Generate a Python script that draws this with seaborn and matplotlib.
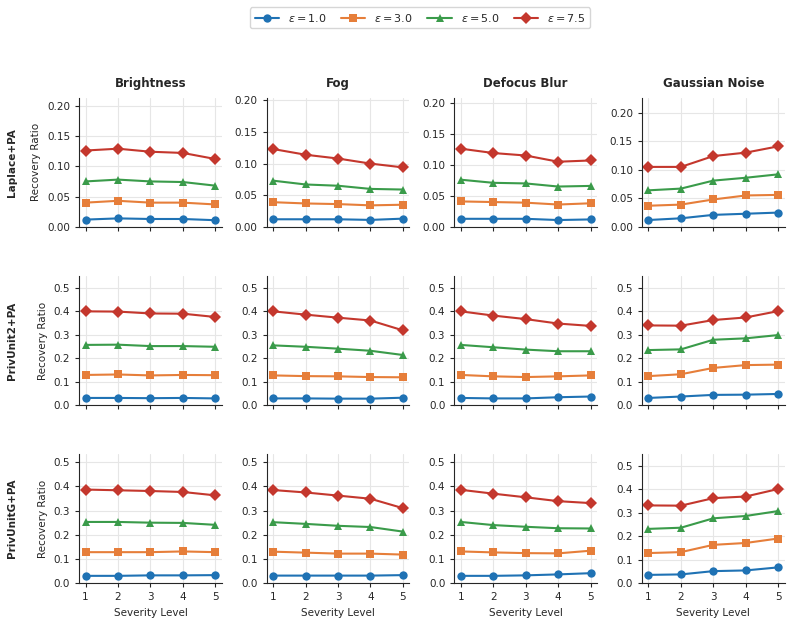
import numpy as np
import pandas as pd
import matplotlib
matplotlib.use("Agg")
import matplotlib.pyplot as plt
from matplotlib.ticker import MultipleLocator
import seaborn as sns

# DATA
SEVERITY   = [1, 2, 3, 4, 5]
EPSILONS   = [1.0, 3.0, 5.0, 7.5]
METHODS    = ["Laplace+PA", "PrivUnit2+PA", "PrivUnitG+PA"]
CORRUPTION = ["Brightness", "Fog", "Defocus Blur", "Gaussian Noise"]

# Laplace+PA, one list per epsilon
lap_brightness = [[0.012, 0.014, 0.013, 0.013, 0.011],
                  [0.040, 0.043, 0.040, 0.040, 0.037],
                  [0.075, 0.078, 0.075, 0.074, 0.068],
                  [0.126, 0.129, 0.124, 0.122, 0.112]]
lap_fog        = [[0.012, 0.012, 0.012, 0.011, 0.013],
                  [0.039, 0.037, 0.036, 0.034, 0.035],
                  [0.073, 0.067, 0.065, 0.060, 0.059],
                  [0.123, 0.114, 0.108, 0.100, 0.094]]
lap_defocus    = [[0.013, 0.013, 0.013, 0.011, 0.012],
                  [0.041, 0.040, 0.039, 0.036, 0.038],
                  [0.076, 0.071, 0.070, 0.065, 0.066],
                  [0.126, 0.119, 0.115, 0.105, 0.107]]
lap_gauss      = [[0.012, 0.015, 0.021, 0.023, 0.025],
                  [0.037, 0.039, 0.048, 0.055, 0.056],
                  [0.064, 0.067, 0.081, 0.086, 0.092],
                  [0.105, 0.105, 0.124, 0.130, 0.141]]

# PrivUnit2+PA
pu2_brightness = [[0.030, 0.030, 0.029, 0.030, 0.028],
                  [0.128, 0.130, 0.126, 0.128, 0.127],
                  [0.256, 0.257, 0.251, 0.251, 0.248],
                  [0.399, 0.398, 0.390, 0.389, 0.375]]
pu2_fog        = [[0.028, 0.028, 0.027, 0.027, 0.031],
                  [0.126, 0.123, 0.122, 0.119, 0.118],
                  [0.254, 0.248, 0.240, 0.231, 0.213],
                  [0.399, 0.385, 0.372, 0.360, 0.318]]
pu2_defocus    = [[0.030, 0.028, 0.028, 0.033, 0.036],
                  [0.128, 0.122, 0.119, 0.122, 0.126],
                  [0.256, 0.246, 0.236, 0.229, 0.229],
                  [0.399, 0.381, 0.366, 0.347, 0.337]]
pu2_gauss      = [[0.030, 0.036, 0.043, 0.044, 0.047],
                  [0.123, 0.131, 0.158, 0.170, 0.172],
                  [0.234, 0.237, 0.278, 0.284, 0.298],
                  [0.339, 0.338, 0.362, 0.373, 0.400]]

# PrivUnitG+PA
pug_brightness = [[0.030, 0.030, 0.032, 0.032, 0.033],
                  [0.128, 0.128, 0.128, 0.131, 0.128],
                  [0.253, 0.253, 0.250, 0.249, 0.241],
                  [0.387, 0.384, 0.381, 0.377, 0.363]]
pug_fog        = [[0.031, 0.031, 0.031, 0.031, 0.033],
                  [0.130, 0.126, 0.122, 0.122, 0.118],
                  [0.252, 0.245, 0.237, 0.232, 0.213],
                  [0.385, 0.375, 0.362, 0.349, 0.310]]
pug_defocus    = [[0.030, 0.030, 0.032, 0.036, 0.041],
                  [0.131, 0.127, 0.124, 0.123, 0.134],
                  [0.253, 0.240, 0.233, 0.227, 0.226],
                  [0.386, 0.370, 0.355, 0.339, 0.331]]
pug_gauss      = [[0.035, 0.037, 0.051, 0.054, 0.067],
                  [0.128, 0.132, 0.163, 0.171, 0.190],
                  [0.231, 0.236, 0.276, 0.286, 0.307],
                  [0.331, 0.330, 0.362, 0.369, 0.401]]

GRID_DATA = [[lap_brightness, lap_fog, lap_defocus, lap_gauss],
             [pu2_brightness, pu2_fog, pu2_defocus, pu2_gauss],
             [pug_brightness, pug_fog, pug_defocus, pug_gauss]]

Y_TOPS = [[0.213, 0.204, 0.208, 0.226],
          [0.55, 0.55, 0.55, 0.55],
          [0.534, 0.534, 0.534, 0.55]]

COLORS  = ["#1f72b4", "#e67e3a", "#3a9b4a", "#c4372d"]
MARKERS = ["o", "s", "^", "D"]

# long table for seaborn
rows = []
for r, method in enumerate(METHODS):
    for c, corr in enumerate(CORRUPTION):
        for e, eps in enumerate(EPSILONS):
            for s, v in zip(SEVERITY, GRID_DATA[r][c][e]):
                rows.append({"method": method, "corruption": corr,
                             "eps": rf"$\epsilon = {eps}$",
                             "severity": s, "ratio": v})
df = pd.DataFrame(rows)
hue_order = [rf"$\epsilon = {eps}$" for eps in EPSILONS]

sns.set_style("ticks")
plt.rcParams["font.family"] = ["DejaVu Sans"]

fig, axes = plt.subplots(3, 4, figsize=(7.91, 6.19), dpi=100)
fig.subplots_adjust(left=0.1, right=0.992, top=0.842, bottom=0.058,
                    wspace=0.315, hspace=0.38)

for r, method in enumerate(METHODS):
    for c, corr in enumerate(CORRUPTION):
        ax = axes[r, c]
        sub = df[(df.method == method) & (df.corruption == corr)]
        sns.lineplot(data=sub, x="severity", y="ratio", hue="eps",
                     style="eps", hue_order=hue_order, style_order=hue_order,
                     palette=COLORS, markers=MARKERS, dashes=False,
                     markersize=6, markeredgewidth=0, linewidth=1.5,
                     ax=ax, legend=(r == 0 and c == 0))
        ax.set_ylim(0, Y_TOPS[r][c])
        ax.yaxis.set_major_locator(MultipleLocator(0.05 if r == 0 else 0.1))
        ax.set_xticks(SEVERITY)
        ax.grid(True, color="#e6e6e6", linewidth=0.8)
        ax.set_axisbelow(True)
        sns.despine(ax=ax)
        ax.tick_params(labelsize=7.5, length=3)
        ax.set_xlabel("")
        ax.set_ylabel("")
        if r == 0:
            ax.set_title(corr, fontsize=8.5, fontweight="bold", pad=8)
        if r == 2:
            ax.set_xlabel("Severity Level", fontsize=7.5)
        else:
            ax.tick_params(labelbottom=False)
        if c == 0:
            ax.set_ylabel("Recovery Ratio", fontsize=7.5)

# shared legend on top
handles, labels = axes[0, 0].get_legend_handles_labels()
axes[0, 0].get_legend().remove()
fig.legend(handles, labels, loc="upper center", ncol=4,
           bbox_to_anchor=(0.531, 0.997), fontsize=8, frameon=True,
           handlelength=2.2, columnspacing=1.3)

# row labels
for r, method in enumerate(METHODS):
    pos = axes[r, 0].get_position()
    fig.text(0.015, (pos.y0 + pos.y1) / 2, method, rotation=90,
             ha="center", va="center", fontsize=7.5, fontweight="bold")

plt.savefig("out.png", dpi=100)
plt.close()
